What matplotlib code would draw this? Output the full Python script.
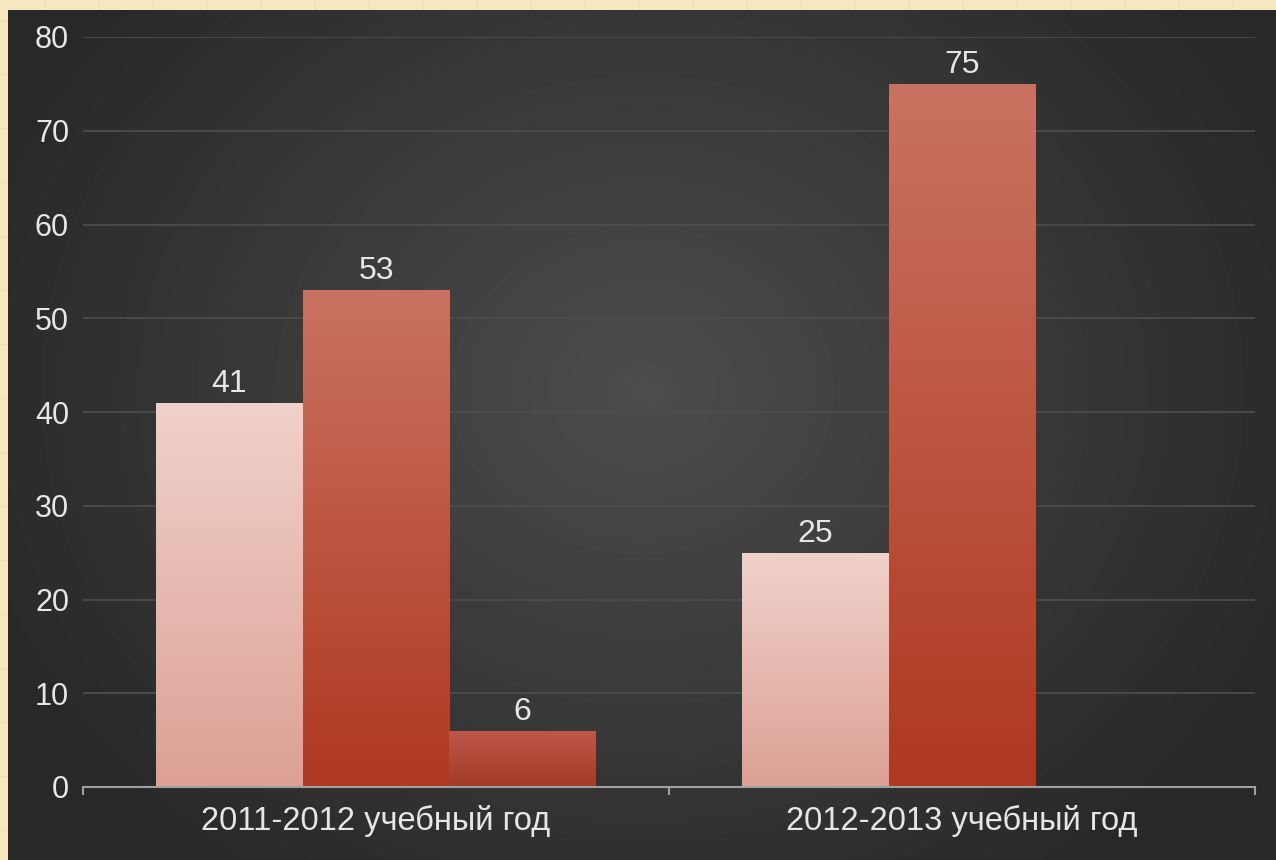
import numpy as np
import matplotlib.pyplot as plt
from matplotlib.colors import LinearSegmentedColormap

# данные
categories = ['2011-2012 учебный год', '2012-2013 учебный год']
series1 = [41, 25]
series2 = [53, 75]
series3 = [6, np.nan]
yticks = [0, 10, 20, 30, 40, 50, 60, 70, 80]

plt.rcParams['font.family'] = ['Liberation Sans', 'DejaVu Sans']

fig = plt.figure(figsize=(12.76, 8.6), dpi=100)

# фон: «тетрадный» лист
bg = fig.add_axes([0, 0, 1, 1])
bg.set_xlim(0, 1276)
bg.set_ylim(860, 0)
bg.axis('off')
bg.add_patch(plt.Rectangle((0, 0), 1276, 860, color='#f7e8c2', zorder=0))
for gx in np.arange(45, 1276, 54):
    bg.axvline(gx, color='#f1dfb4', lw=1, zorder=1)
for gy in np.arange(20, 860, 54):
    bg.axhline(gy, color='#f1dfb4', lw=1, zorder=1)

# тёмная панель с радиальным градиентом
yy, xx = np.mgrid[0:850, 0:1268]
r = np.sqrt(((xx - 634) / 700.0) ** 2 + ((yy - 380) / 600.0) ** 2)
shade = np.clip(0.30 - 0.14 * r, 0.16, 0.30)
bg.imshow(shade, cmap='gray', vmin=0, vmax=1, extent=(8, 1276, 860, 10),
          aspect='auto', zorder=2, interpolation='bilinear')

ax = fig.add_axes([83 / 1276, (860 - 787) / 860, (1255 - 83) / 1276, 750 / 860])
ax.patch.set_alpha(0)

w = 0.25
x = np.arange(len(categories))
grads = [
    ('#dca095', '#f0d2ca', series1),
    ('#ae3820', '#ca7262', series2),
    ('#a23a26', '#c0584a', series3),
]
for i, (c_bot, c_top, vals) in enumerate(grads):
    cmap = LinearSegmentedColormap.from_list('g%d' % i, [c_bot, c_top])
    bars = ax.bar(x + (i - 1) * w, vals, w, color='none', zorder=3)
    for b, v in zip(bars, vals):
        if np.isnan(v):
            continue
        x0, h = b.get_x(), b.get_height()
        grad = np.linspace(0, 1, 256).reshape(-1, 1)
        im = ax.imshow(grad, cmap=cmap, origin='lower', aspect='auto',
                       extent=(x0, x0 + w, 0, h), zorder=3)
        im.set_clip_path(b)
        ax.text(x0 + w / 2, h + 0.4, '%d' % v, ha='center', va='bottom',
                color='#e6e6e6', fontsize=23, zorder=4)
ax.set_xlim(-0.5, 1.5)
ax.set_ylim(0, 80)

ax.set_yticks(yticks)
ax.yaxis.grid(True, color='#4e4e4e', lw=1.2)
ax.set_axisbelow(True)
ax.tick_params(axis='y', length=0, colors='#e6e6e6', labelsize=22, pad=10)
ax.set_xticks([-0.5, 0.5, 1.5])
ax.set_xticklabels([])
ax.set_xticks(x, minor=True)
ax.set_xticklabels(categories, minor=True)
ax.tick_params(axis='x', which='major', length=6, color='#a0a0a0', width=1.5)
ax.tick_params(axis='x', which='minor', length=0, colors='#e6e6e6',
               labelsize=23.5, pad=13)
for s in ['top', 'right', 'left']:
    ax.spines[s].set_visible(False)
ax.spines['bottom'].set_color('#a0a0a0')
ax.spines['bottom'].set_linewidth(1.5)
ax.spines['bottom'].set_zorder(5)

fig.savefig('out.png', dpi=100)
